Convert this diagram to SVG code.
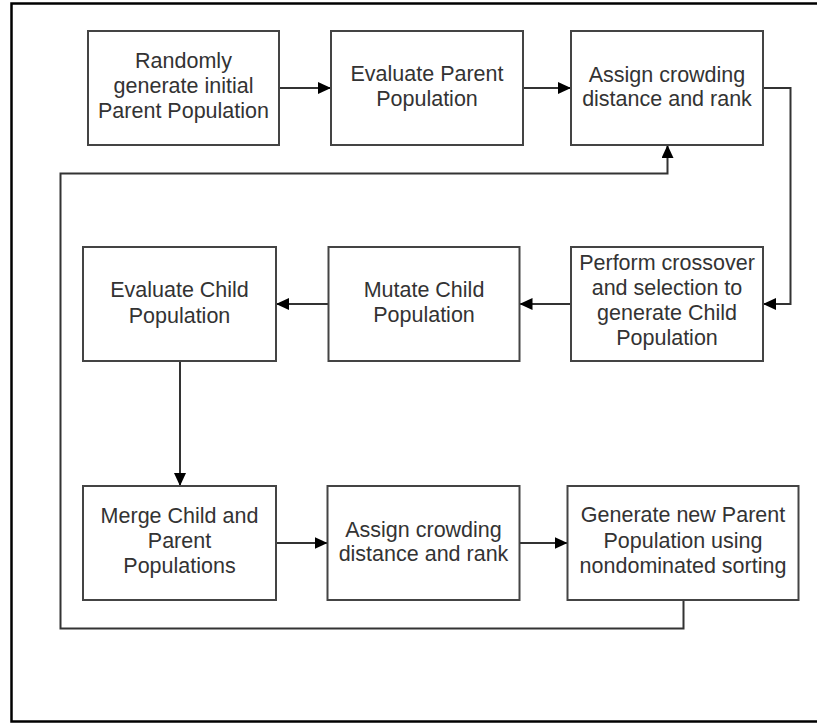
<svg xmlns="http://www.w3.org/2000/svg" width="817" height="723" viewBox="0 0 817 723">
<style>
.box{fill:#fff;stroke:#444;stroke-width:2}
.lbl{font-family:"Liberation Sans",Arial,sans-serif;font-size:21.5px;fill:#333;text-anchor:middle}
.con{fill:none;stroke:#333;stroke-width:2}
</style>
<defs>
<marker id="ah" markerWidth="13" markerHeight="12" refX="13" refY="6" orient="auto" markerUnits="userSpaceOnUse">
<path d="M0,0 L13,6 L0,12 Z" fill="#000"/>
</marker>
</defs>
<rect width="817" height="723" fill="#fff"/>
<g id="frame">
<path d="M817,3.5 H11.5 V721.5 H817" fill="none" stroke="#000" stroke-width="2.5"/>
</g>
<g id="connectors">
<path class="con" d="M279,88 H331" marker-end="url(#ah)"/>
<path class="con" d="M523,88 H571" marker-end="url(#ah)"/>
<path class="con" d="M763,88 H790.5 V304 H763" marker-end="url(#ah)"/>
<path class="con" d="M571,304 H519.5" marker-end="url(#ah)"/>
<path class="con" d="M328.5,304 H276" marker-end="url(#ah)"/>
<path class="con" d="M180,361 V486" marker-end="url(#ah)"/>
<path class="con" d="M276,543 H327.5" marker-end="url(#ah)"/>
<path class="con" d="M519.5,543 H567.5" marker-end="url(#ah)"/>
<path class="con" d="M683.5,600 V628.5 H60.5 V173.5 H667.5 V145" marker-end="url(#ah)"/>
</g>
<g id="n1">
<rect class="box" x="88" y="31" width="191" height="114"/>
<text class="lbl" x="183.5" y="67.5">Randomly</text>
<text class="lbl" x="183.5" y="92.5">generate initial</text>
<text class="lbl" x="183.5" y="118">Parent Population</text>
</g>
<g id="n2">
<rect class="box" x="331" y="31" width="192" height="114"/>
<text class="lbl" x="427" y="81">Evaluate Parent</text>
<text class="lbl" x="427" y="106">Population</text>
</g>
<g id="n3">
<rect class="box" x="571" y="31" width="192" height="114"/>
<text class="lbl" x="667" y="81.5">Assign crowding</text>
<text class="lbl" x="667" y="106">distance and rank</text>
</g>
<g id="n4">
<rect class="box" x="571" y="247" width="192" height="114"/>
<text class="lbl" x="667" y="270">Perform crossover</text>
<text class="lbl" x="667" y="295">and selection to</text>
<text class="lbl" x="667" y="320">generate Child</text>
<text class="lbl" x="667" y="345">Population</text>
</g>
<g id="n5">
<rect class="box" x="328.5" y="247" width="191" height="114"/>
<text class="lbl" x="424" y="297">Mutate Child</text>
<text class="lbl" x="424" y="322">Population</text>
</g>
<g id="n6">
<rect class="box" x="83" y="247" width="193" height="114"/>
<text class="lbl" x="179.5" y="297">Evaluate Child</text>
<text class="lbl" x="179.5" y="322.5">Population</text>
</g>
<g id="n7">
<rect class="box" x="83" y="486" width="193" height="114"/>
<text class="lbl" x="179.5" y="522.5">Merge Child and</text>
<text class="lbl" x="179.5" y="548">Parent</text>
<text class="lbl" x="179.5" y="573">Populations</text>
</g>
<g id="n8">
<rect class="box" x="327.5" y="486" width="192" height="114"/>
<text class="lbl" x="423.5" y="536.5">Assign crowding</text>
<text class="lbl" x="423.5" y="561">distance and rank</text>
</g>
<g id="n9">
<rect class="box" x="567.5" y="486" width="231" height="114"/>
<text class="lbl" x="683" y="522">Generate new Parent</text>
<text class="lbl" x="683" y="548">Population using</text>
<text class="lbl" x="683" y="573">nondominated sorting</text>
</g>
</svg>
